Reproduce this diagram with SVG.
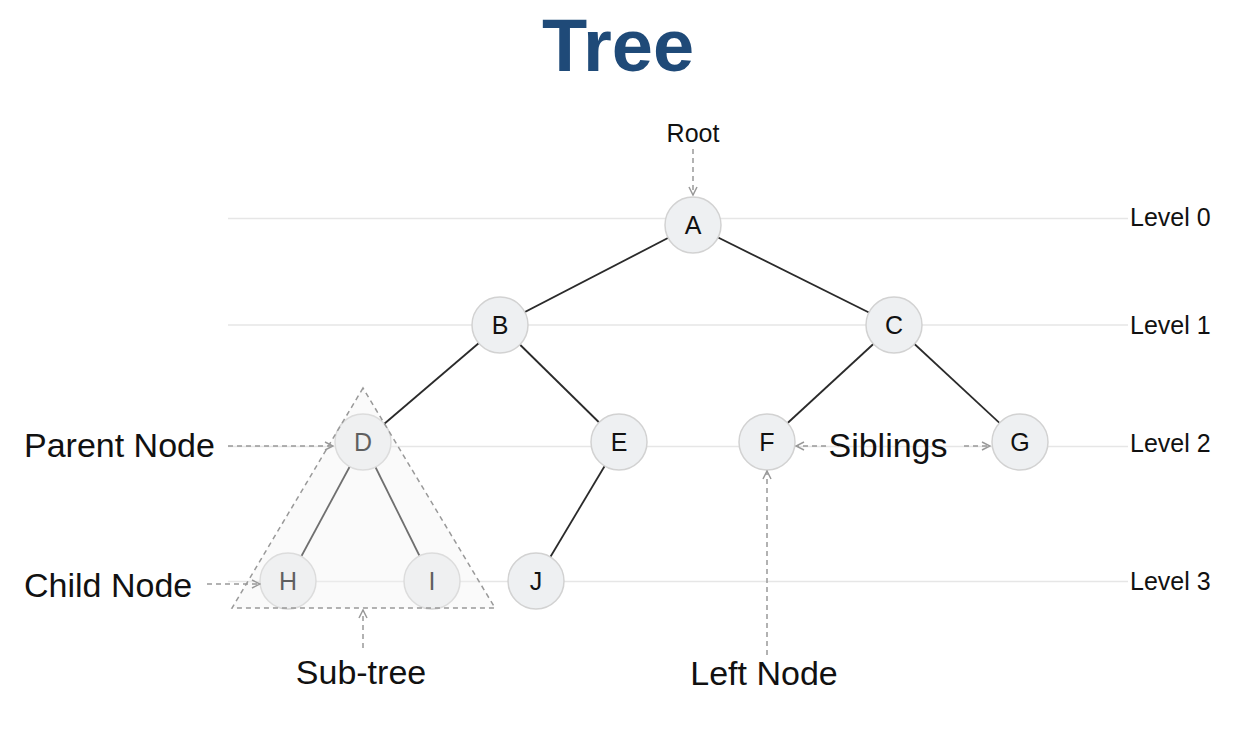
<svg xmlns="http://www.w3.org/2000/svg" width="1260" height="738" viewBox="0 0 1260 738">
  <style>
    .title { font-family: "Liberation Sans", Arial, sans-serif; font-weight: bold; font-size: 74px; fill: #1f4a78; }
    .lvl { stroke: #e6e6e6; stroke-width: 1.5; }
    .lvltxt { font-family: "Liberation Sans", Arial, sans-serif; font-size: 25px; fill: #111; }
    .edge { stroke: #2a2a2a; stroke-width: 1.8; fill: none; }
    .node circle { fill: #eef0f2; stroke: #d2d2d2; stroke-width: 1.5; }
    .node text { font-family: "Liberation Sans", Arial, sans-serif; font-size: 25px; fill: #111; text-anchor: middle; }
    .dash { stroke: #999; stroke-width: 1.5; stroke-dasharray: 5 4; fill: none; marker-end: url(#arr); }
    .lbl { font-family: "Liberation Sans", Arial, sans-serif; font-size: 34px; fill: #111; }
    .small { font-family: "Liberation Sans", Arial, sans-serif; font-size: 25px; fill: #111; text-anchor: middle; }
  </style>
  <defs>
    <marker id="arr" viewBox="0 0 10 10" refX="9" refY="5" markerWidth="10" markerHeight="10" markerUnits="userSpaceOnUse" orient="auto">
      <path d="M1,1 L9,5 L1,9" fill="none" stroke="#999" stroke-width="1.5"/>
    </marker>
  </defs>
  <rect width="1260" height="738" fill="#ffffff"/>

  <text class="title" x="618" y="71" text-anchor="middle">Tree</text>

  <g id="levels">
    <line class="lvl" x1="228" y1="218.5" x2="1128" y2="218.5"/>
    <line class="lvl" x1="228" y1="325" x2="1128" y2="325"/>
    <line class="lvl" x1="228" y1="446.5" x2="1128" y2="446.5"/>
    <line class="lvl" x1="228" y1="581.5" x2="1128" y2="581.5"/>
    <text class="lvltxt" x="1130" y="226">Level 0</text>
    <text class="lvltxt" x="1130" y="334">Level 1</text>
    <text class="lvltxt" x="1130" y="452">Level 2</text>
    <text class="lvltxt" x="1130" y="590">Level 3</text>
  </g>

  <g id="connectors">
    <line class="edge" x1="693" y1="225" x2="500" y2="325"/>
    <line class="edge" x1="693" y1="225" x2="894" y2="325"/>
    <line class="edge" x1="500" y1="325" x2="363" y2="442"/>
    <line class="edge" x1="500" y1="325" x2="619" y2="442"/>
    <line class="edge" x1="894" y1="325" x2="767" y2="442"/>
    <line class="edge" x1="894" y1="325" x2="1020" y2="442"/>
    <line class="edge" x1="363" y1="442" x2="288" y2="581"/>
    <line class="edge" x1="363" y1="442" x2="432" y2="581"/>
    <line class="edge" x1="619" y1="442" x2="536" y2="581"/>
  </g>

  <g id="node-A" class="node"><circle cx="693" cy="225" r="28"/><text x="693" y="234">A</text></g>
  <g id="node-B" class="node"><circle cx="500" cy="325" r="28"/><text x="500" y="334">B</text></g>
  <g id="node-C" class="node"><circle cx="894" cy="325" r="28"/><text x="894" y="334">C</text></g>
  <g id="node-D" class="node"><circle cx="363" cy="442" r="28"/><text x="363" y="451">D</text></g>
  <g id="node-E" class="node"><circle cx="619" cy="442" r="28"/><text x="619" y="451">E</text></g>
  <g id="node-F" class="node"><circle cx="767" cy="442" r="28"/><text x="767" y="451">F</text></g>
  <g id="node-G" class="node"><circle cx="1020" cy="442" r="28"/><text x="1020" y="451">G</text></g>
  <g id="node-H" class="node"><circle cx="288" cy="581" r="28"/><text x="288" y="590">H</text></g>
  <g id="node-I" class="node"><circle cx="432" cy="581" r="28"/><text x="432" y="590">I</text></g>
  <g id="node-J" class="node"><circle cx="536" cy="581" r="28"/><text x="536" y="590">J</text></g>

  <g id="subtree">
    <polygon points="363,388 232,608 495,608" fill="#f0f0f0" fill-opacity="0.35" stroke="#999" stroke-width="1.5" stroke-dasharray="5 4"/>
  </g>

  <g id="annotations">
    <text class="small" x="693" y="142">Root</text>
    <line class="dash" x1="693" y1="149" x2="693" y2="195"/>

    <text class="lbl" x="24" y="457">Parent Node</text>
    <line class="dash" x1="228" y1="446" x2="333" y2="446"/>

    <text class="lbl" x="24" y="597">Child Node</text>
    <line class="dash" x1="207" y1="584" x2="260" y2="584"/>

    <text class="lbl" x="361" y="684" text-anchor="middle">Sub-tree</text>
    <line class="dash" x1="363" y1="648" x2="363" y2="610"/>

    <text class="lbl" x="888" y="457" text-anchor="middle">Siblings</text>
    <line class="dash" x1="826" y1="446" x2="796" y2="446"/>
    <line class="dash" x1="964" y1="446" x2="990" y2="446"/>

    <text class="lbl" x="764" y="685" text-anchor="middle">Left Node</text>
    <line class="dash" x1="767" y1="655" x2="767" y2="471"/>
  </g>
</svg>
